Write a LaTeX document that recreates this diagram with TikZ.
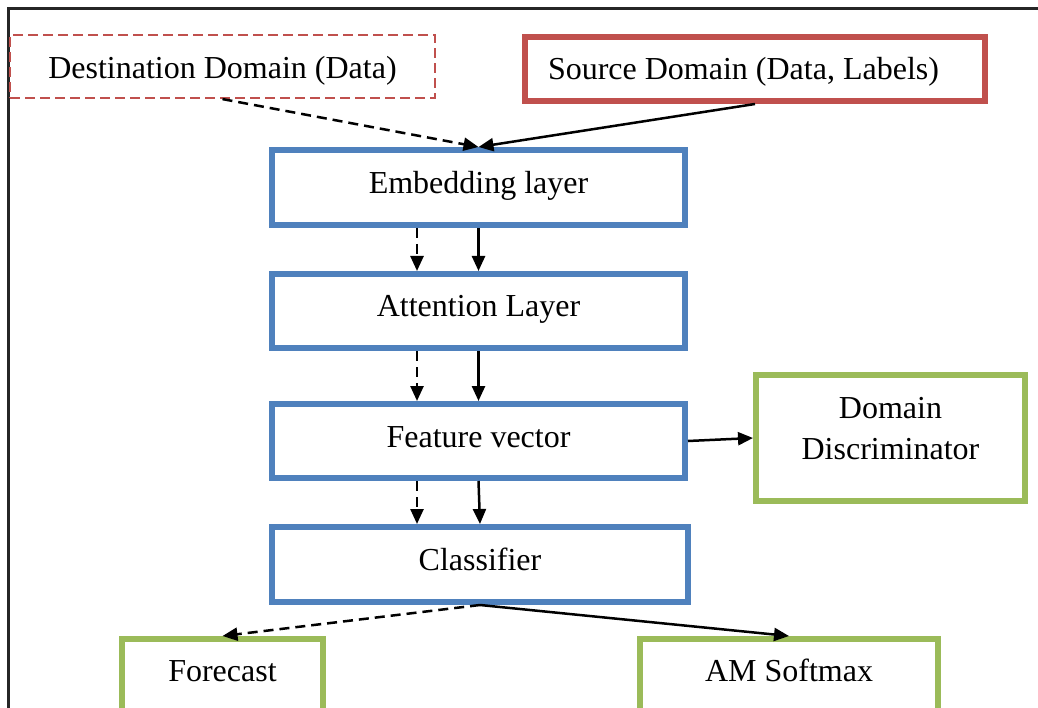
\documentclass[tikz,border=0pt]{standalone}
\usepackage{fontspec}
\setmainfont{Liberation Serif}
\usetikzlibrary{arrows.meta}
\definecolor{boxred}{HTML}{C0504D}
\definecolor{boxblue}{HTML}{4F81BD}
\definecolor{boxgreen}{HTML}{9BBB59}
\begin{document}
\begin{tikzpicture}[x=1pt,y=-1pt,
  every node/.style={font=\fontsize{32}{41}\selectfont, inner sep=0pt},
  txt/.style={text height=20pt, text depth=8pt},
  bluebox/.style={draw=boxblue, line width=6pt, rectangle, minimum width=413pt, minimum height=75pt, txt},
  greenbox/.style={draw=boxgreen, line width=6pt, rectangle},
  redbox/.style={draw=boxred, line width=6pt, rectangle},
  dashbox/.style={draw=boxred, line width=2.2pt, dash pattern=on 10pt off 5pt, rectangle},
  arr/.style={line width=2.5pt, -{Triangle[length=15pt,width=13pt]}},
  dasharr/.style={arr, dash pattern=on 10pt off 6pt}
]
\clip (0,0) rectangle (1038,708);
\fill[white] (0,0) rectangle (1038,708);
% frame
\draw[line width=2.5pt, black!85] (8.5,710) -- (8.5,8.5) -- (1040,8.5);

\node[dashbox, minimum width=425pt, minimum height=63pt, text height=25pt, text depth=0pt] (dest) at (222.5,66.5) {Destination Domain (Data)};
\node[redbox, minimum height=64pt, text width=414pt, inner xsep=23pt, align=flush left, text height=24pt, text depth=2pt] (src) at (755,69) {Source Domain (Data, Labels)};

\node[bluebox] (emb) at (478.5,187.5) {Embedding layer};
\node[bluebox, minimum height=74pt] (att) at (478.5,311) {Attention Layer};
\node[bluebox, minimum height=74pt] (fv) at (478.5,441) {Feature vector};
\node[bluebox, minimum width=416pt] (cls) at (480,564.5) {Classifier};

\node[greenbox, minimum width=269pt, minimum height=126pt, text height=20pt, text depth=60pt] (dd) at (890.5,438) {\begin{tabular}[t]{@{}c@{}}Domain\\Discriminator\end{tabular}};
\node[greenbox, anchor=north, minimum width=201pt, text height=42pt, text depth=90pt] (fc) at (222.5,636) {Forecast};
\node[greenbox, anchor=north, minimum width=298pt, text height=42pt, text depth=90pt] (am) at (789,636) {AM Softmax};

\draw[dasharr] (dest.south) -- (emb.north);
\draw[arr] (src.south) -- (emb.north);

\draw[dasharr] ([xshift=-61.5pt]emb.south) -- ([xshift=-61.5pt]att.north);
\draw[arr] (emb.south) -- (att.north);
\draw[dasharr] ([xshift=-61.5pt]att.south) -- ([xshift=-61.5pt]att.south |- fv.north);
\draw[arr] (att.south) -- (fv.north);
\draw[dasharr] ([xshift=-61.5pt]fv.south) -- ([xshift=-61.5pt]fv.south |- cls.north);
\draw[arr] (fv.south) -- (cls.north);

\draw[arr] (fv.east) -- (dd.west);

\draw[dasharr] (cls.south) -- (fc.north);
\draw[arr] (cls.south) -- (am.north);
\end{tikzpicture}
\end{document}
